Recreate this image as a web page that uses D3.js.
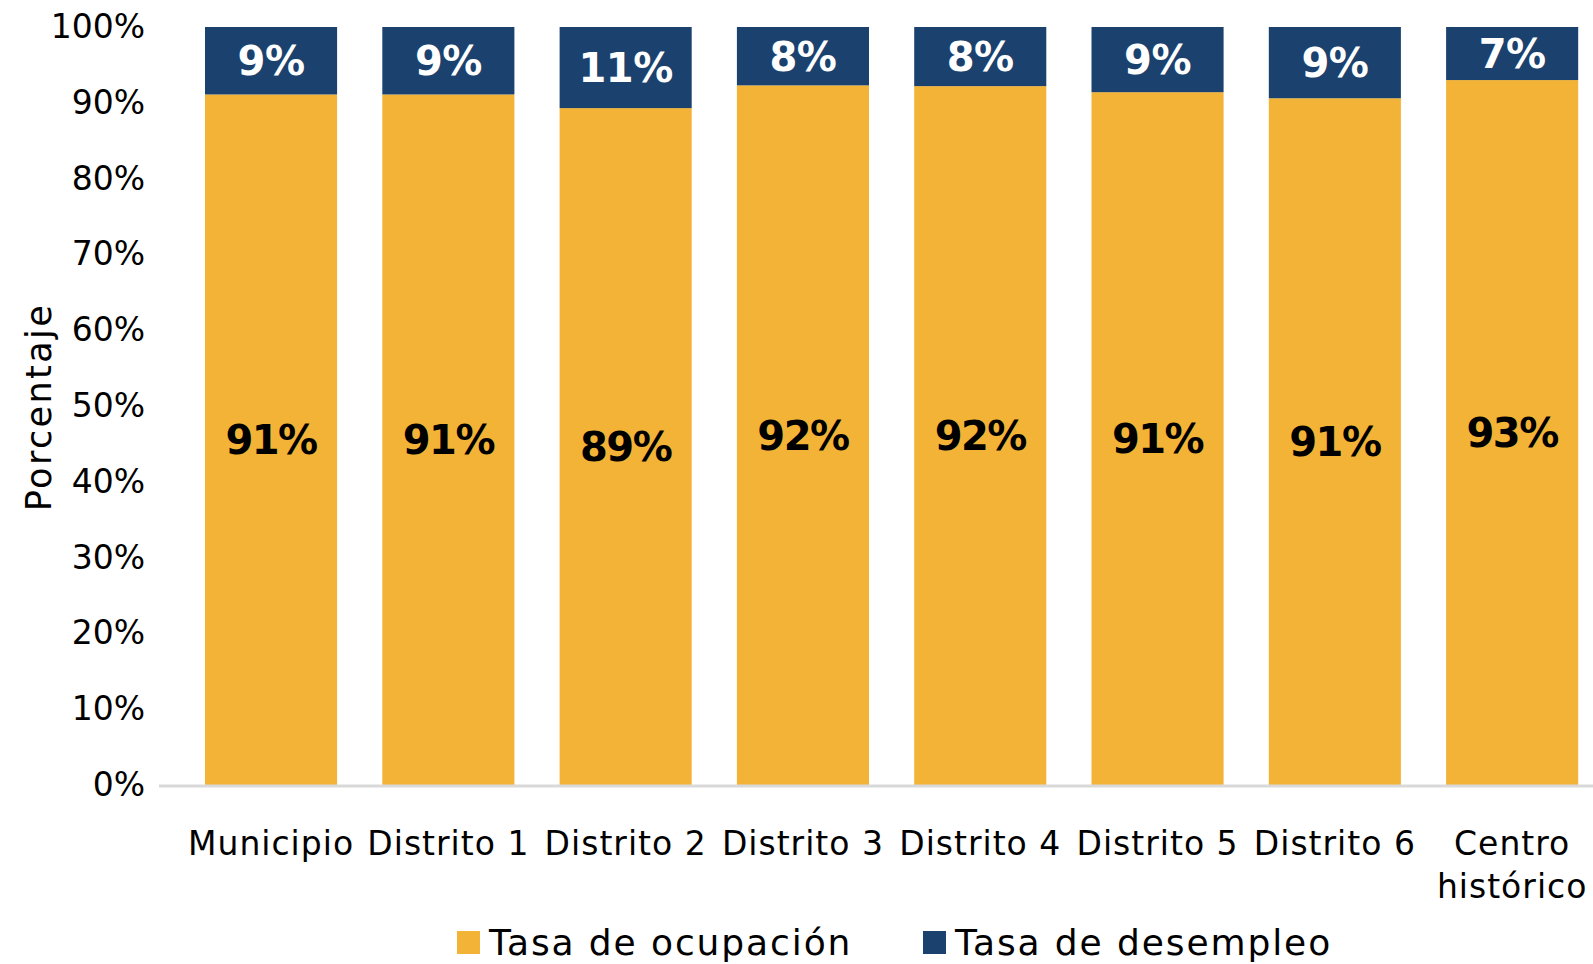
<!DOCTYPE html>
<html>
<head>
<meta charset="utf-8">
<script src="https://cdn.jsdelivr.net/npm/d3@7"></script>
<style>
  body { margin: 0; background: #fff; }
  text { font-family: "DejaVu Sans", sans-serif; }
</style>
</head>
<body>
<script>
var width = 1593;
var height = 964;

var categories = ["Municipio", "Distrito 1", "Distrito 2", "Distrito 3", "Distrito 4", "Distrito 5", "Distrito 6", "Centro histórico"];
var ocupacion = [91.1, 91.1, 89.3, 92.3, 92.2, 91.4, 90.6, 93.0];
var desempleo = [8.9, 8.9, 10.7, 7.7, 7.8, 8.6, 9.4, 7.0];
var yTicks = [0, 10, 20, 30, 40, 50, 60, 70, 80, 90, 100];
var seriesNames = ["Tasa de ocupación", "Tasa de desempleo"];
var colors = ["#F3B336", "#1B426E"];

var svg = d3.select("body").append("svg")
    .attr("width", width)
    .attr("height", height);

var data = categories.map(function (c, i) {
    return { cat: c, ocup: ocupacion[i], desem: desempleo[i] };
});

var xScale = d3.scaleBand().domain(categories).range([182.4, 1600.8]).paddingInner(0.255).paddingOuter(0.1275);
var yScale = d3.scaleLinear().domain([0, 100]).range([785, 27]);

// y axis labels
var yAxis = d3.axisLeft(yScale).tickValues(yTicks).tickSize(0).tickPadding(14)
    .tickFormat(d => d + "%");
svg.append("g")
    .attr("transform", "translate(159,0)")
    .call(yAxis)
    .call(g => g.select(".domain").remove())
    .selectAll("text")
    .attr("font-size", 33)
    .attr("fill", "#000")
    .style("font-family", "DejaVu Sans");

// y axis title
svg.append("text")
    .attr("transform", "translate(51,407) rotate(-90)")
    .attr("text-anchor", "middle")
    .attr("font-size", 35)
    .attr("letter-spacing", 2.4)
    .attr("fill", "#000")
    .text("Porcentaje");

// bars: occupation
svg.selectAll("rect.ocup")
    .data(data)
    .enter().append("rect")
    .attr("class", "ocup")
    .attr("x", d => xScale(d.cat))
    .attr("width", xScale.bandwidth())
    .attr("y", d => yScale(d.ocup))
    .attr("height", d => yScale(0) - yScale(d.ocup))
    .attr("fill", colors[0]);

// bars: unemployment
svg.selectAll("rect.desem")
    .data(data)
    .enter().append("rect")
    .attr("class", "desem")
    .attr("x", d => xScale(d.cat))
    .attr("width", xScale.bandwidth())
    .attr("y", d => yScale(d.ocup + d.desem))
    .attr("height", d => yScale(d.ocup) - yScale(d.ocup + d.desem))
    .attr("fill", colors[1]);

// x axis line
svg.append("line")
    .attr("x1", 159).attr("x2", width)
    .attr("y1", yScale(0) + 1).attr("y2", yScale(0) + 1)
    .attr("stroke", "#d9d9d9")
    .attr("stroke-width", 3);

// value labels
svg.selectAll("text.lab-ocup")
    .data(data)
    .enter().append("text")
    .attr("class", "lab-ocup")
    .attr("x", d => xScale(d.cat) + xScale.bandwidth() / 2)
    .attr("y", d => (yScale(0) + yScale(d.ocup)) / 2)
    .attr("dy", "0.36em")
    .attr("text-anchor", "middle")
    .attr("font-size", 40)
    .attr("letter-spacing", -1.5)
    .attr("font-weight", "bold")
    .attr("fill", "#000")
    .text(d => Math.round(d.ocup) + "%");

svg.selectAll("text.lab-desem")
    .data(data)
    .enter().append("text")
    .attr("class", "lab-desem")
    .attr("x", d => xScale(d.cat) + xScale.bandwidth() / 2)
    .attr("y", d => (yScale(d.ocup) + yScale(d.ocup + d.desem)) / 2)
    .attr("dy", "0.36em")
    .attr("text-anchor", "middle")
    .attr("font-size", 40)
    .attr("letter-spacing", -0.5)
    .attr("font-weight", "bold")
    .attr("fill", "#fff")
    .text(d => Math.round(d.desem) + "%");

// category labels
var catLabels = svg.selectAll("text.cat")
    .data(categories)
    .enter().append("text")
    .attr("class", "cat")
    .attr("text-anchor", "middle")
    .attr("font-size", 33)
    .attr("letter-spacing", 1.0)
    .attr("fill", "#000");

catLabels.each(function (d) {
    var words = d === "Centro histórico" ? ["Centro", "histórico"] : [d];
    var t = d3.select(this);
    words.forEach(function (w, i) {
        t.append("tspan")
            .attr("x", xScale(d) + xScale.bandwidth() / 2)
            .attr("y", 855 + i * 43)
            .text(w);
    });
});

// legend
var legendX = [457, 923];
seriesNames.forEach(function (name, i) {
    svg.append("rect")
        .attr("x", legendX[i])
        .attr("y", 931)
        .attr("width", 23)
        .attr("height", 23)
        .attr("fill", colors[i]);
    svg.append("text")
        .attr("x", legendX[i] + 32)
        .attr("y", 955)
        .attr("font-size", 36)
        .attr("letter-spacing", 1.9)
        .attr("fill", "#000")
        .text(name);
});
</script>
</body>
</html>
